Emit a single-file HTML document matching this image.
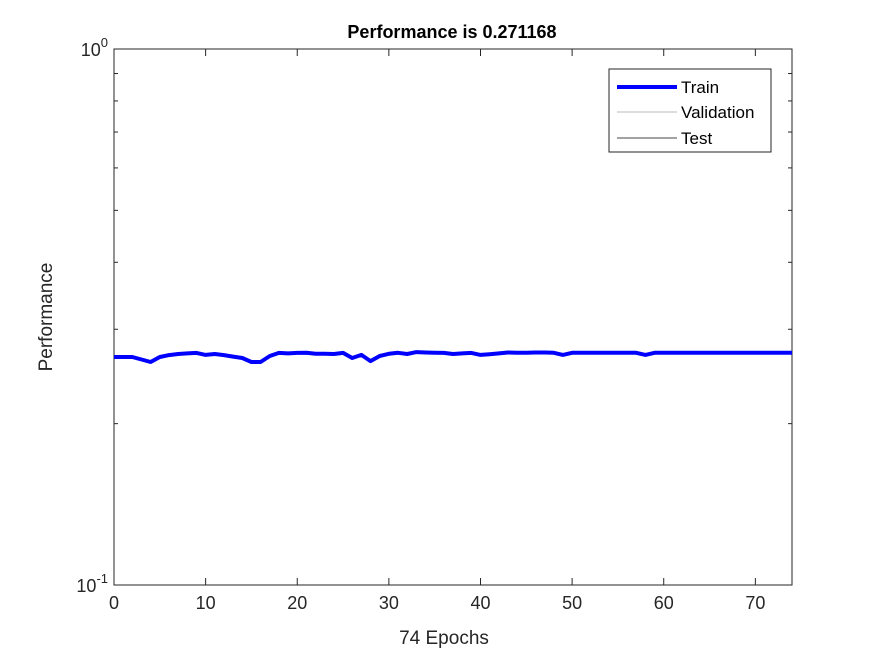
<!DOCTYPE html>
<html><head><meta charset="utf-8"><style>
body{margin:0;background:#fff;}
text{font-family:"Liberation Sans",sans-serif;}
</style></head><body>
<svg width="875" height="656" xmlns="http://www.w3.org/2000/svg">
<rect width="875" height="656" fill="#fff"/>
<text x="452" y="38" text-anchor="middle" font-size="18" font-weight="bold" fill="#000">Performance is 0.271168</text>
<g id="axes"></g>
<text x="444" y="644" text-anchor="middle" font-size="19" fill="#262626">74 Epochs</text>
<text transform="translate(52,317) rotate(-90)" text-anchor="middle" font-size="19" fill="#262626">Performance</text>
<path id="train" fill="none" stroke="#0000ff" stroke-width="4" stroke-linejoin="round"/>
<g>
<rect x="609" y="69" width="162" height="83" fill="#fff" stroke="#262626" stroke-width="1"/>
<line x1="617" y1="87" x2="677" y2="87" stroke="#0000ff" stroke-width="4"/>
<text x="681" y="93" font-size="17" fill="#000">Train</text>
<line x1="617" y1="112" x2="677" y2="112" stroke="#bbb" stroke-width="1"/>
<text x="681" y="118" font-size="17" fill="#000">Validation</text>
<line x1="617" y1="138" x2="677" y2="138" stroke="#444" stroke-width="1"/>
<text x="681" y="144" font-size="17" fill="#000">Test</text>
</g>
</svg>
<script>
const trainValues=[.2663,.2663,.2663,.2635,.2606,.2663,.2685,.2698,.2705,.2710,.2687,.2698,.2685,.2668,.2652,.2606,.2606,.2675,.2710,.2705,.2710,.2712,.2700,.2700,.2698,.2710,.2652,.2687,.2617,.2675,.2700,.2712,.2698,.2720,.2715,.2712,.2710,.2698,.2705,.2710,.2687,.2695,.2705,.2715,.2712,.2712,.2715,.2715,.2712,.2687,.2712,.2712,.2712,.2712,.2712,.2712,.2712,.2712,.2687,.2712,.2712,.2712,.2712,.2712,.2712,.2712,.2712,.2712,.2712,.2712,.2712,.2712,.2712,.2712,.271168];
const xTicks=[0,10,20,30,40,50,60,70];
const yMinor=[0.2,0.3,0.4,0.5,0.6,0.7,0.8,0.9];
const X0=114,X1=792,Y0=585,Y1=49,XMAX=74;
const sx=v=>X0+(X1-X0)*v/XMAX;
const sy=v=>Y0-(Y0-Y1)*(Math.log10(v)+1);
const ns="http://www.w3.org/2000/svg";
const ax=document.getElementById('axes');
function mk(t,a){const e=document.createElementNS(ns,t);for(const k in a)e.setAttribute(k,a[k]);ax.appendChild(e);return e;}
const box=mk('rect',{x:X0,y:Y1,width:X1-X0,height:Y0-Y1,fill:'none',stroke:'#262626','stroke-width':1});


xTicks.forEach(t=>{const x=sx(t);
 mk('line',{x1:x,y1:Y0,x2:x,y2:Y0-7,stroke:'#262626'});
 mk('line',{x1:x,y1:Y1,x2:x,y2:Y1+7,stroke:'#262626'});
 const tx=mk('text',{x:x,y:Y0+24,'text-anchor':'middle','font-size':18,fill:'#262626'});tx.textContent=t;
 
 
});
yMinor.forEach(v=>{const y=sy(v);
 mk('line',{x1:X0,y1:y,x2:X0+4,y2:y,stroke:'#262626'});
 mk('line',{x1:X1,y1:y,x2:X1-4,y2:y,stroke:'#262626'});
});
[[0.1,'10','-1'],[1,'10','0']].forEach(([v,b,e])=>{const y=sy(v);
 const t=mk('text',{x:X0-6,y:y+7,'text-anchor':'end','font-size':18,fill:'#262626'});
 t.innerHTML=b+'<tspan dy="-9" font-size="13">'+e+'</tspan>';
 
 
});
document.getElementById('train').setAttribute('d',trainValues.map((v,i)=>(i?'L':'M')+sx(i).toFixed(1)+','+sy(v).toFixed(1)).join(''));
</script>
</body></html>
